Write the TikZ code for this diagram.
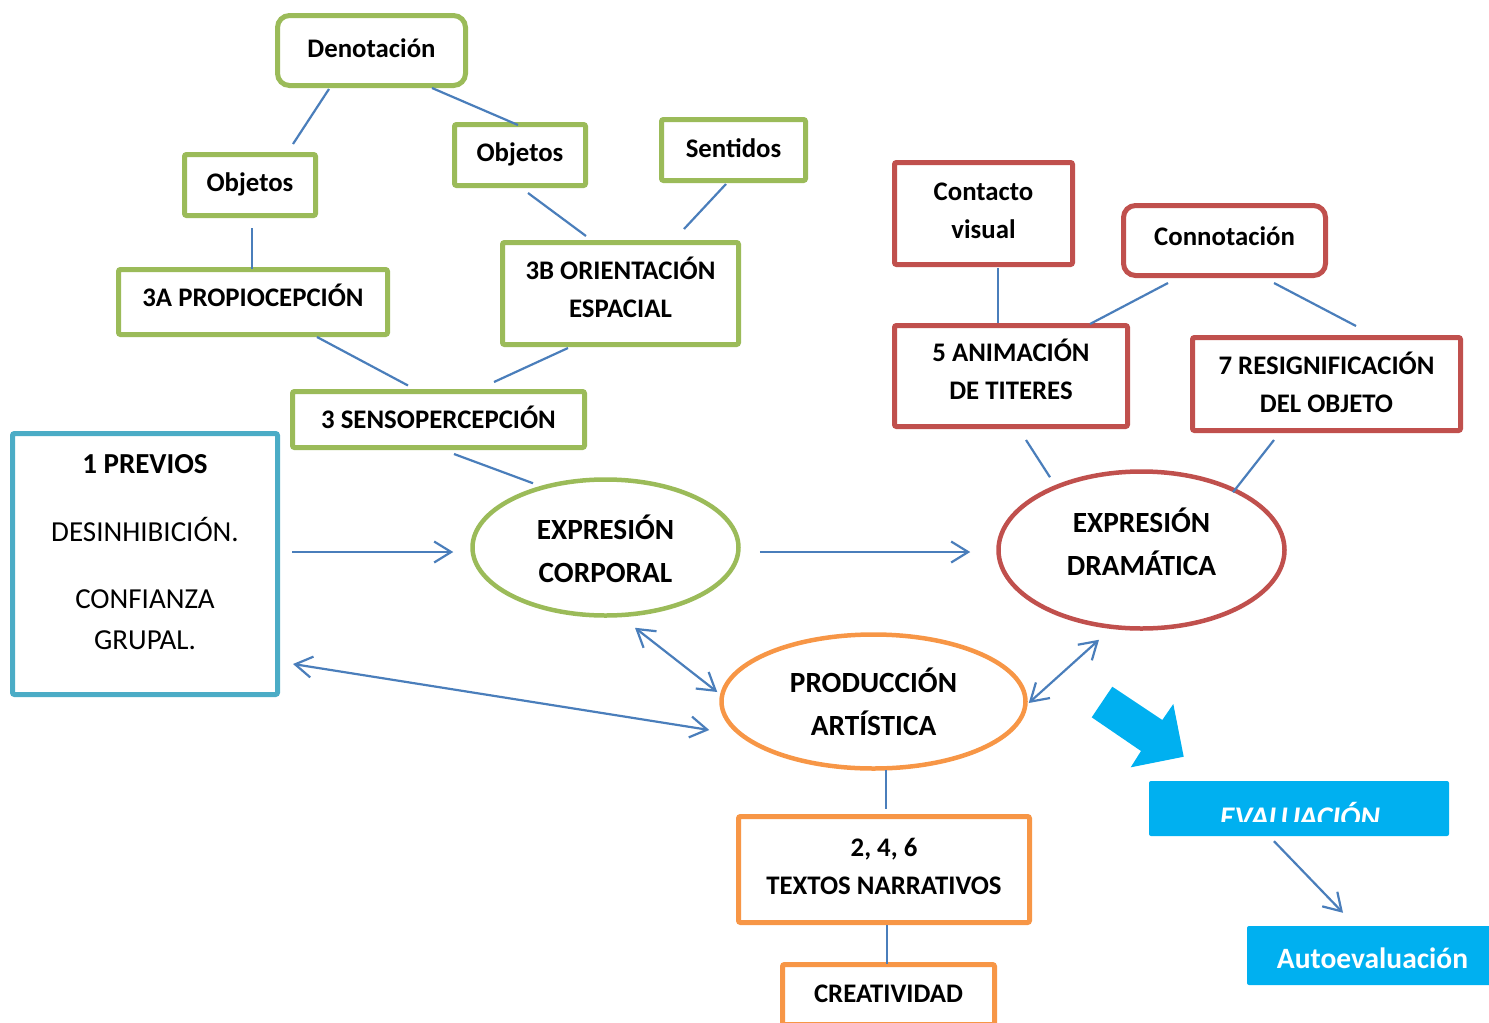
\documentclass[tikz,border=0pt]{standalone}
\usepackage{fontspec}
\setmainfont{Carlito}
\usetikzlibrary{shapes.geometric,arrows.meta,calc}
\definecolor{cgreen}{HTML}{9BBB59}
\definecolor{cred}{HTML}{C0504D}
\definecolor{corange}{HTML}{F79646}
\definecolor{cteal}{HTML}{4BACC6}
\definecolor{ccyan}{HTML}{00B0F0}
\definecolor{cline}{HTML}{4A7EBB}
\begin{document}
\begin{tikzpicture}[x=1pt,y=-1pt,
  box/.style={draw, line width=5pt, rounded corners=2pt, inner sep=0pt, align=center, fill=white,
    font=\bfseries\fontsize{26.8}{38}\selectfont, text depth=0pt},
  gbox/.style={box, draw=cgreen},
  rbox/.style={box, draw=cred},
  obox/.style={box, draw=corange},
  ell/.style={ellipse, draw, line width=4.5pt, inner sep=0pt, align=center, text depth=0pt,
    font=\bfseries\fontsize{29.3}{43}\selectfont},
  cbox/.style={fill=ccyan, rounded corners=2pt, inner sep=0pt, text=white, text depth=0pt},
  bl/.style={text height=#1},
  link/.style={draw=cline, line width=2.2pt},
  arr/.style={link, -{Straight Barb[length=17pt,width=21pt]}},
  darr/.style={link, {Straight Barb[length=17pt,width=21pt]}-{Straight Barb[length=17pt,width=21pt]}}
]
\useasboundingbox (0,0) rectangle (1489,1023);
\clip (0,0) rectangle (1489,1023);

% green group
\node[gbox, rounded corners=12pt, minimum width=188pt, minimum height=70pt, bl=13.6pt] (den) at (371.5,50.5) {Denotación};
\node[gbox, minimum width=131pt, minimum height=61pt, bl=13.4pt] (objL) at (250,185) {Objetos};
\node[gbox, minimum width=131pt, minimum height=61pt, bl=13.4pt] (objM) at (520,155) {Objetos};
\node[gbox, minimum width=144pt, minimum height=61pt, bl=15pt] (sent) at (733.5,150) {Sentidos};
\node[gbox, minimum width=269pt, minimum height=65pt, bl=9.4pt] (p3a) at (253,302) {3A PROPIOCEPCIÓN};
\node[gbox, minimum width=236pt, minimum height=102pt, bl=47pt] (p3b) at (620.5,293.5) {3B ORIENTACIÓN\\ESPACIAL};
\node[gbox, minimum width=292pt, minimum height=56pt, bl=17.6pt] (senso) at (438.5,419.5) {3 SENSOPERCEPCIÓN};
\node[ell, draw=cgreen, minimum width=266pt, minimum height=136pt, bl=69pt] (corp) at (605.5,547.5) {EXPRESIÓN\\CORPORAL};

% previos
\node[draw=cteal, line width=5pt, rounded corners=2pt, inner sep=0pt, minimum width=265pt, minimum height=261pt] (previos) at (145,564) {};
\node[anchor=base, align=center, font=\fontsize{29}{41}\selectfont, inner sep=0pt] (prevtxt) at (145,649)
  {\textbf{1 PREVIOS}\\[27pt]DESINHIBICIÓN.\\[26pt]CONFIANZA\\GRUPAL.};

% red group
\node[rbox, minimum width=178pt, minimum height=102pt, bl=49pt] (cont) at (983.5,213.5) {Contacto\\visual};
\node[rbox, rounded corners=12pt, minimum width=202pt, minimum height=70pt, bl=9pt] (connot) at (1224.5,240.5) {Connotación};
\node[rbox, minimum width=233pt, minimum height=101pt, bl=46pt] (anim) at (1011,376) {5 ANIMACIÓN\\DE TITERES};
\node[rbox, minimum width=268pt, minimum height=93pt, bl=56pt] (resig) at (1326.5,384) {7 RESIGNIFICACIÓN\\DEL OBJETO};
\node[ell, draw=cred, minimum width=286pt, minimum height=157pt, bl=50pt] (dram) at (1141.5,550) {EXPRESIÓN\\DRAMÁTICA};

% orange group
\node[ell, draw=corange, minimum width=304pt, minimum height=134pt, bl=67pt] (prod) at (873.5,701.5) {PRODUCCIÓN\\ARTÍSTICA};
\node[obox, minimum width=291pt, minimum height=106pt, bl=49pt] (textos) at (884,869.5) {2, 4, 6\\TEXTOS NARRATIVOS};
\node[obox, minimum width=212pt, minimum height=60pt, bl=15pt] (creat) at (888.5,994.5) {CREATIVIDAD};

% evaluation
\node[cbox, minimum width=300pt, minimum height=55pt] (eval) at (1299,808.5) {};
\begin{scope}
  \clip (1149,781) rectangle (1449,821.5);
  \node[anchor=base, text=white, inner sep=0pt, font=\bfseries\itshape\fontsize{30}{35}\selectfont] (evaltxt) at (1300,827) {EVALUACIÓN};
\end{scope}
\node[cbox, minimum width=253pt, minimum height=59pt, bl=25pt, font=\bfseries\fontsize{29.5}{35}\selectfont] (auto) at (1373.5,955.5) {\hspace*{-2pt}Autoevaluación};

% big block arrow
\fill[ccyan] (1091.7,717.3) -- (1112.3,686.7) -- (1162.3,720) -- (1173.3,704)
  -- (1183.7,756.7) -- (1130.7,767.3) -- (1141,751) -- cycle;

% connectors
\draw[link] ($(den.south)+(-42.5,1)$) -- ($(objL.north)+(43,-8)$);
\draw[link] ($(den.south)+(60.5,0)$) -- ($(objM.north)+(-2,3)$);
\draw[link] ($(objL.south)+(2,10)$) -- ($(p3a.north)+(-1,2)$);
\draw[link] ($(objM.south)+(8,5)$) -- ($(p3b.north)+(-34.5,-4)$);
\draw[link] ($(sent.south)+(-7.5,1)$) -- ($(p3b.north)+(63.5,-11)$);
\draw[link] ($(p3a.south)+(64,0)$) -- ($(senso.north)+(-30.5,-3.5)$);
\draw[link] ($(p3b.south)+(-52.5,1)$) -- ($(senso.north)+(55.5,-7)$);
\draw[link] ($(senso.south)+(15.5,4)$) -- ($(corp.north)+(-72.5,6)$);
\draw[arr] ($(previos.east)+(12,-12)$) -- ($(corp.west)+(-17,4.5)$);
\draw[arr] ($(corp.east)+(19,4.5)$) -- ($(dram.west)+(-26,2)$);
\draw[link] ($(cont.south)+(14.5,1)$) -- ($(anim.north)+(-13,0)$);
\draw[link] ($(connot.south)+(-56.5,5)$) -- ($(anim.north)+(79,1)$);
\draw[link] ($(connot.south)+(49.5,5)$) -- ($(resig.north)+(29.5,-9)$);
\draw[link] ($(anim.south)+(15,11)$) -- ($(dram.north)+(-91.5,8)$);
\draw[link] ($(resig.south)+(-52.5,7)$) -- ($(dram.north)+(91.5,23)$);
\draw[darr] ($(corp.south)+(29.5,10)$) -- ($(prod.west)+(-2,-9.5)$);
\draw[darr] ($(previos.east)+(13,100)$) -- ($(prod.west)+(-10,28.5)$);
\draw[darr] ($(prod.east)+(1,1.5)$) -- ($(dram.south)+(-42.5,9)$);
\draw[link] ($(prod.south)+(12.5,-1)$) -- ($(textos.north)+(2,-5)$);
\draw[link] ($(textos.south)+(3,0)$) -- ($(creat.north)+(-1.5,2)$);
\draw[arr] ($(eval.south)+(-25,5)$) -- ($(auto.north)+(-30.5,-13)$);
\end{tikzpicture}
\end{document}
